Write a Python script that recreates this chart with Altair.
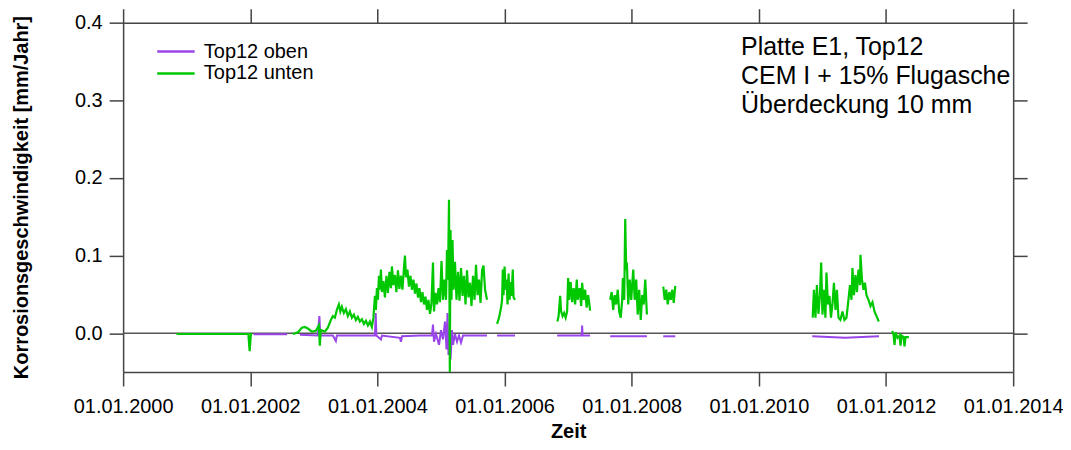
import altair as alt
import pandas as pd

# ---------------- data (years since 2000, mm/Jahr) ----------------
YEAR0 = 2000

# Top12 unten (green), one list per measured segment: (t, value)
unten_2001 = [(0.84, -0.001), (1.40, -0.001), (1.97, -0.001), (1.99, -0.023), (2.01, -0.001), (2.03, -0.001)]
unten_2003 = [
    (2.669, -0.001), (2.748, 0.001), (2.811, 0.007), (2.858, 0.008), (2.906, 0.006), (2.969, 0.002),
    (3.031, 0.003), (3.079, 0.010), (3.094, -0.016), (3.110, 0.004), (3.173, 0.002), (3.220, 0.007),
    (3.268, 0.017), (3.299, 0.022), (3.331, 0.020), (3.362, 0.030), (3.394, 0.037), (3.417, 0.028),
    (3.441, 0.034), (3.472, 0.026), (3.504, 0.031), (3.535, 0.022), (3.567, 0.028), (3.598, 0.020),
    (3.630, 0.024), (3.661, 0.017), (3.693, 0.021), (3.724, 0.015), (3.756, 0.018), (3.787, 0.012),
    (3.819, 0.016), (3.850, 0.010), (3.882, 0.015), (3.913, 0.008), (3.937, 0.020), (3.961, 0.048),
    (3.976, 0.030), (3.992, 0.058), (4.008, 0.043), (4.024, 0.074), (4.039, 0.056), (4.055, 0.082),
    (4.071, 0.053), (4.094, 0.067), (4.118, 0.046), (4.142, 0.074), (4.165, 0.052), (4.189, 0.079),
    (4.213, 0.058), (4.228, 0.086), (4.252, 0.062), (4.276, 0.075), (4.299, 0.053), (4.323, 0.081),
    (4.346, 0.057), (4.370, 0.074), (4.394, 0.056), (4.417, 0.084), (4.433, 0.100), (4.449, 0.072),
    (4.472, 0.082), (4.496, 0.060), (4.520, 0.074), (4.543, 0.056), (4.567, 0.069), (4.591, 0.051),
    (4.614, 0.064), (4.638, 0.046), (4.661, 0.058), (4.685, 0.040), (4.709, 0.053), (4.732, 0.037),
    (4.756, 0.047), (4.780, 0.030), (4.803, 0.043), (4.827, 0.025), (4.850, 0.038), (4.874, 0.091),
    (4.890, 0.028), (4.913, 0.052), (4.937, 0.037), (4.961, 0.058), (4.984, 0.040), (5.008, 0.093),
    (5.031, 0.043), (5.055, 0.069), (5.079, 0.043), (5.094, 0.107), (5.110, 0.069), (5.126, 0.172),
    (5.139, -0.050), (5.150, 0.133), (5.165, 0.043), (5.181, 0.120), (5.197, 0.056), (5.220, 0.092),
    (5.244, 0.043), (5.268, 0.079), (5.291, 0.042), (5.315, 0.084), (5.339, 0.048), (5.362, 0.074),
    (5.386, 0.037), (5.409, 0.081), (5.433, 0.046), (5.457, 0.065), (5.480, 0.035), (5.504, 0.074),
    (5.528, 0.043), (5.551, 0.088), (5.575, 0.049), (5.598, 0.069), (5.622, 0.039), (5.646, 0.081),
    (5.669, 0.087), (5.693, 0.056), (5.724, 0.043),
]
unten_2006 = [
    (5.882, 0.012), (5.913, 0.020), (5.945, 0.033), (5.961, 0.043), (5.972, 0.082), (5.984, 0.049),
    (6.000, 0.086), (6.016, 0.056), (6.031, 0.069), (6.047, 0.037), (6.063, 0.077), (6.079, 0.043),
    (6.094, 0.066), (6.110, 0.048), (6.129, 0.082), (6.142, 0.046), (6.165, 0.043),
]
unten_2007 = [
    (6.831, 0.015), (6.850, 0.022), (6.874, 0.048), (6.890, 0.028), (6.913, 0.022), (6.937, 0.026),
    (6.961, 0.020), (6.984, 0.028), (7.000, 0.071), (7.016, 0.043), (7.039, 0.066), (7.063, 0.040),
    (7.087, 0.058), (7.110, 0.037), (7.136, 0.069), (7.150, 0.043), (7.181, 0.058), (7.205, 0.035),
    (7.220, 0.065), (7.244, 0.043), (7.268, 0.056), (7.291, 0.033), (7.315, 0.049), (7.346, 0.029),
]
unten_2008 = [
    (7.661, 0.043), (7.685, 0.053), (7.709, 0.030), (7.732, 0.049), (7.756, 0.037), (7.780, 0.056),
    (7.803, 0.028), (7.827, 0.020), (7.850, 0.043), (7.861, 0.071), (7.882, 0.043), (7.898, 0.147),
    (7.913, 0.082), (7.924, 0.091), (7.945, 0.037), (7.969, 0.069), (7.992, 0.043), (8.008, 0.062),
    (8.024, 0.082), (8.047, 0.043), (8.071, 0.069), (8.094, 0.024), (8.118, 0.056), (8.142, 0.017),
    (8.165, 0.049), (8.189, 0.037), (8.213, 0.069), (8.239, 0.024),
]
unten_2008b = [
    (8.496, 0.060), (8.520, 0.043), (8.543, 0.056), (8.567, 0.037), (8.591, 0.053), (8.614, 0.043),
    (8.638, 0.056), (8.661, 0.039), (8.685, 0.061),
]
unten_2011 = [
    (10.847, 0.020), (10.866, 0.056), (10.890, 0.020), (10.913, 0.062), (10.937, 0.025), (10.961, 0.049),
    (10.980, 0.091), (11.000, 0.024), (11.024, 0.056), (11.047, 0.020), (11.063, 0.078), (11.087, 0.037),
    (11.110, 0.048), (11.134, 0.020), (11.157, 0.037), (11.181, 0.065), (11.205, 0.030), (11.228, 0.056),
    (11.252, 0.020), (11.283, 0.017), (11.315, 0.028), (11.346, 0.017), (11.378, 0.020), (11.409, 0.043),
    (11.433, 0.062), (11.457, 0.043), (11.472, 0.084), (11.496, 0.049), (11.520, 0.075), (11.543, 0.053),
    (11.567, 0.082), (11.591, 0.062), (11.598, 0.101), (11.622, 0.069), (11.646, 0.056), (11.669, 0.065),
    (11.693, 0.049), (11.724, 0.043), (11.756, 0.035), (11.787, 0.040), (11.819, 0.028), (11.850, 0.022),
    (11.887, 0.015),
]
unten_2012 = [
    (12.098, 0.003), (12.118, -0.002), (12.134, -0.015), (12.150, 0.001), (12.181, -0.006), (12.213, -0.003),
    (12.228, -0.016), (12.244, -0.003), (12.276, -0.005), (12.291, -0.017), (12.307, -0.005), (12.359, -0.005),
]

# Top12 oben (purple)
oben_2002 = [(2.05, -0.0015), (2.58, -0.0015)]
oben_2003 = [
    (2.780, -0.002), (3.063, -0.003), (3.087, 0.022), (3.102, -0.003), (3.299, -0.003), (3.346, -0.010),
    (3.362, -0.003), (3.724, -0.003), (3.961, -0.003), (3.973, 0.026), (3.984, -0.003), (4.055, -0.008),
    (4.071, -0.003), (4.354, -0.006), (4.370, -0.011), (4.386, -0.004), (4.669, -0.003), (4.858, -0.003),
    (4.874, 0.011), (4.890, -0.011), (4.921, -0.001), (4.969, -0.015), (5.000, 0.004), (5.031, -0.008),
    (5.063, 0.015), (5.087, -0.021), (5.102, 0.026), (5.118, -0.028), (5.134, 0.001), (5.150, -0.034),
    (5.173, 0.004), (5.189, -0.015), (5.220, -0.001), (5.252, -0.011), (5.283, -0.003), (5.315, -0.012),
    (5.346, -0.003), (5.724, -0.003),
]
oben_2006 = [(5.882, -0.003), (6.165, -0.003)]
oben_2007 = [(6.827, -0.003), (7.213, -0.003), (7.220, 0.010), (7.228, -0.003), (7.346, -0.003)]
oben_2008 = [(7.661, -0.004), (8.239, -0.004)]
oben_2008b = [(8.496, -0.004), (8.685, -0.004)]
oben_2011 = [(10.84, -0.004), (11.36, -0.006), (11.89, -0.004)]

series_names = ["Top12 oben", "Top12 unten"]
series_colors = ["#9A45E8", "#00C800"]
x_ticks = [2000, 2002, 2004, 2006, 2008, 2010, 2012, 2014]
y_ticks = [0.0, 0.1, 0.2, 0.3, 0.4]
annotation = "Platte E1, Top12\nCEM I + 15% Flugasche\nÜberdeckung 10 mm"


def to_frame(segments, name):
    rows = []
    for i, seg in enumerate(segments):
        for t, v in seg:
            rows.append({"jahr": YEAR0 + t, "wert": v, "serie": name, "seg": f"{name}-{i}"})
    return pd.DataFrame(rows)


oben_df = to_frame([oben_2002, oben_2003, oben_2006, oben_2007, oben_2008, oben_2008b, oben_2011], series_names[0])
unten_df = to_frame([unten_2001, unten_2003, unten_2006, unten_2007, unten_2008, unten_2008b, unten_2011, unten_2012],
                    series_names[1])

xs = alt.Scale(domain=[2000, 2014], nice=False, zero=False)
ys = alt.Scale(domain=[-0.05, 0.4], nice=False, zero=False)
color = alt.Color(
    "serie:N",
    scale=alt.Scale(domain=series_names, range=series_colors),
    legend=alt.Legend(
        orient="none", legendX=43, legendY=19, title=None, padding=0,
        symbolType="M-2.5,0H2.5", symbolSize=225, symbolStrokeWidth=2.5,
        labelFont="Liberation Sans", labelFontSize=20, labelColor="black",
        labelOffset=18, rowPadding=2,
    ),
)

axis_common = dict(
    domainColor="#444", domainWidth=1.5, tickColor="#444", tickWidth=1.5, tickSize=14,
    labelFont="Liberation Sans", labelFontSize=20, labelColor="black", grid=False,
)
title_common = dict(
    titleFont="Liberation Sans", titleFontSize=20, titleFontWeight="bold", titleColor="black",
)

zero = alt.Chart(pd.DataFrame({"wert": [0.0]})).mark_rule(color="#555", strokeWidth=1.5).encode(
    y=alt.Y("wert:Q", scale=ys, axis=None)
)

oben = alt.Chart(oben_df).mark_line(strokeWidth=2).encode(
    x=alt.X("jahr:Q", scale=xs, axis=alt.Axis(
        orient="bottom", values=x_ticks, labelExpr="'01.01.' + datum.value", labelFlush=False,
        labelOverlap=False, labelBound=False, labelPadding=11, title="Zeit",
        titleBaseline="alphabetic", titleY=65.5, **axis_common, **title_common)),
    y=alt.Y("wert:Q", scale=ys, axis=alt.Axis(
        orient="left", values=y_ticks, format=".1f", labelPadding=7, labelFlush=False,
        title="Korrosionsgeschwindigkeit [mm/Jahr]", titleAngle=270, titleBaseline="middle",
        titleX=-102, titleY=175, **axis_common, **title_common)),
    color=color,
    detail="seg:N",
    order=alt.Order("jahr:Q"),
)

unten = alt.Chart(unten_df).mark_line(strokeWidth=2.2).encode(
    x=alt.X("jahr:Q", scale=xs, axis=alt.Axis(orient="top", values=x_ticks, labels=False, title=None,
                                               **axis_common)),
    y=alt.Y("wert:Q", scale=ys, axis=alt.Axis(orient="right", values=y_ticks, labels=False, title=None,
                                               **axis_common)),
    color=color,
    detail="seg:N",
    order=alt.Order("jahr:Q"),
)

note = alt.Chart(pd.DataFrame({"jahr": [2009.72], "wert": [0.3582], "txt": [annotation]})).mark_text(
    align="left", baseline="alphabetic", lineBreak="\n", lineHeight=29, fontSize=25,
    font="Liberation Sans", color="black"
).encode(
    x=alt.X("jahr:Q", scale=xs, axis=None),
    y=alt.Y("wert:Q", scale=ys, axis=None),
    text="txt:N",
)

chart = alt.layer(zero, oben, unten, note).resolve_axis(x="independent", y="independent").properties(
    width=893, height=350.5,
    padding={"left": 115.5, "top": 14, "right": 50, "bottom": 70},
    autosize=alt.AutoSizeParams(type="none"),
).configure_view(stroke=None)

chart.save("out.html", embed_options={"renderer": "svg", "actions": False})
